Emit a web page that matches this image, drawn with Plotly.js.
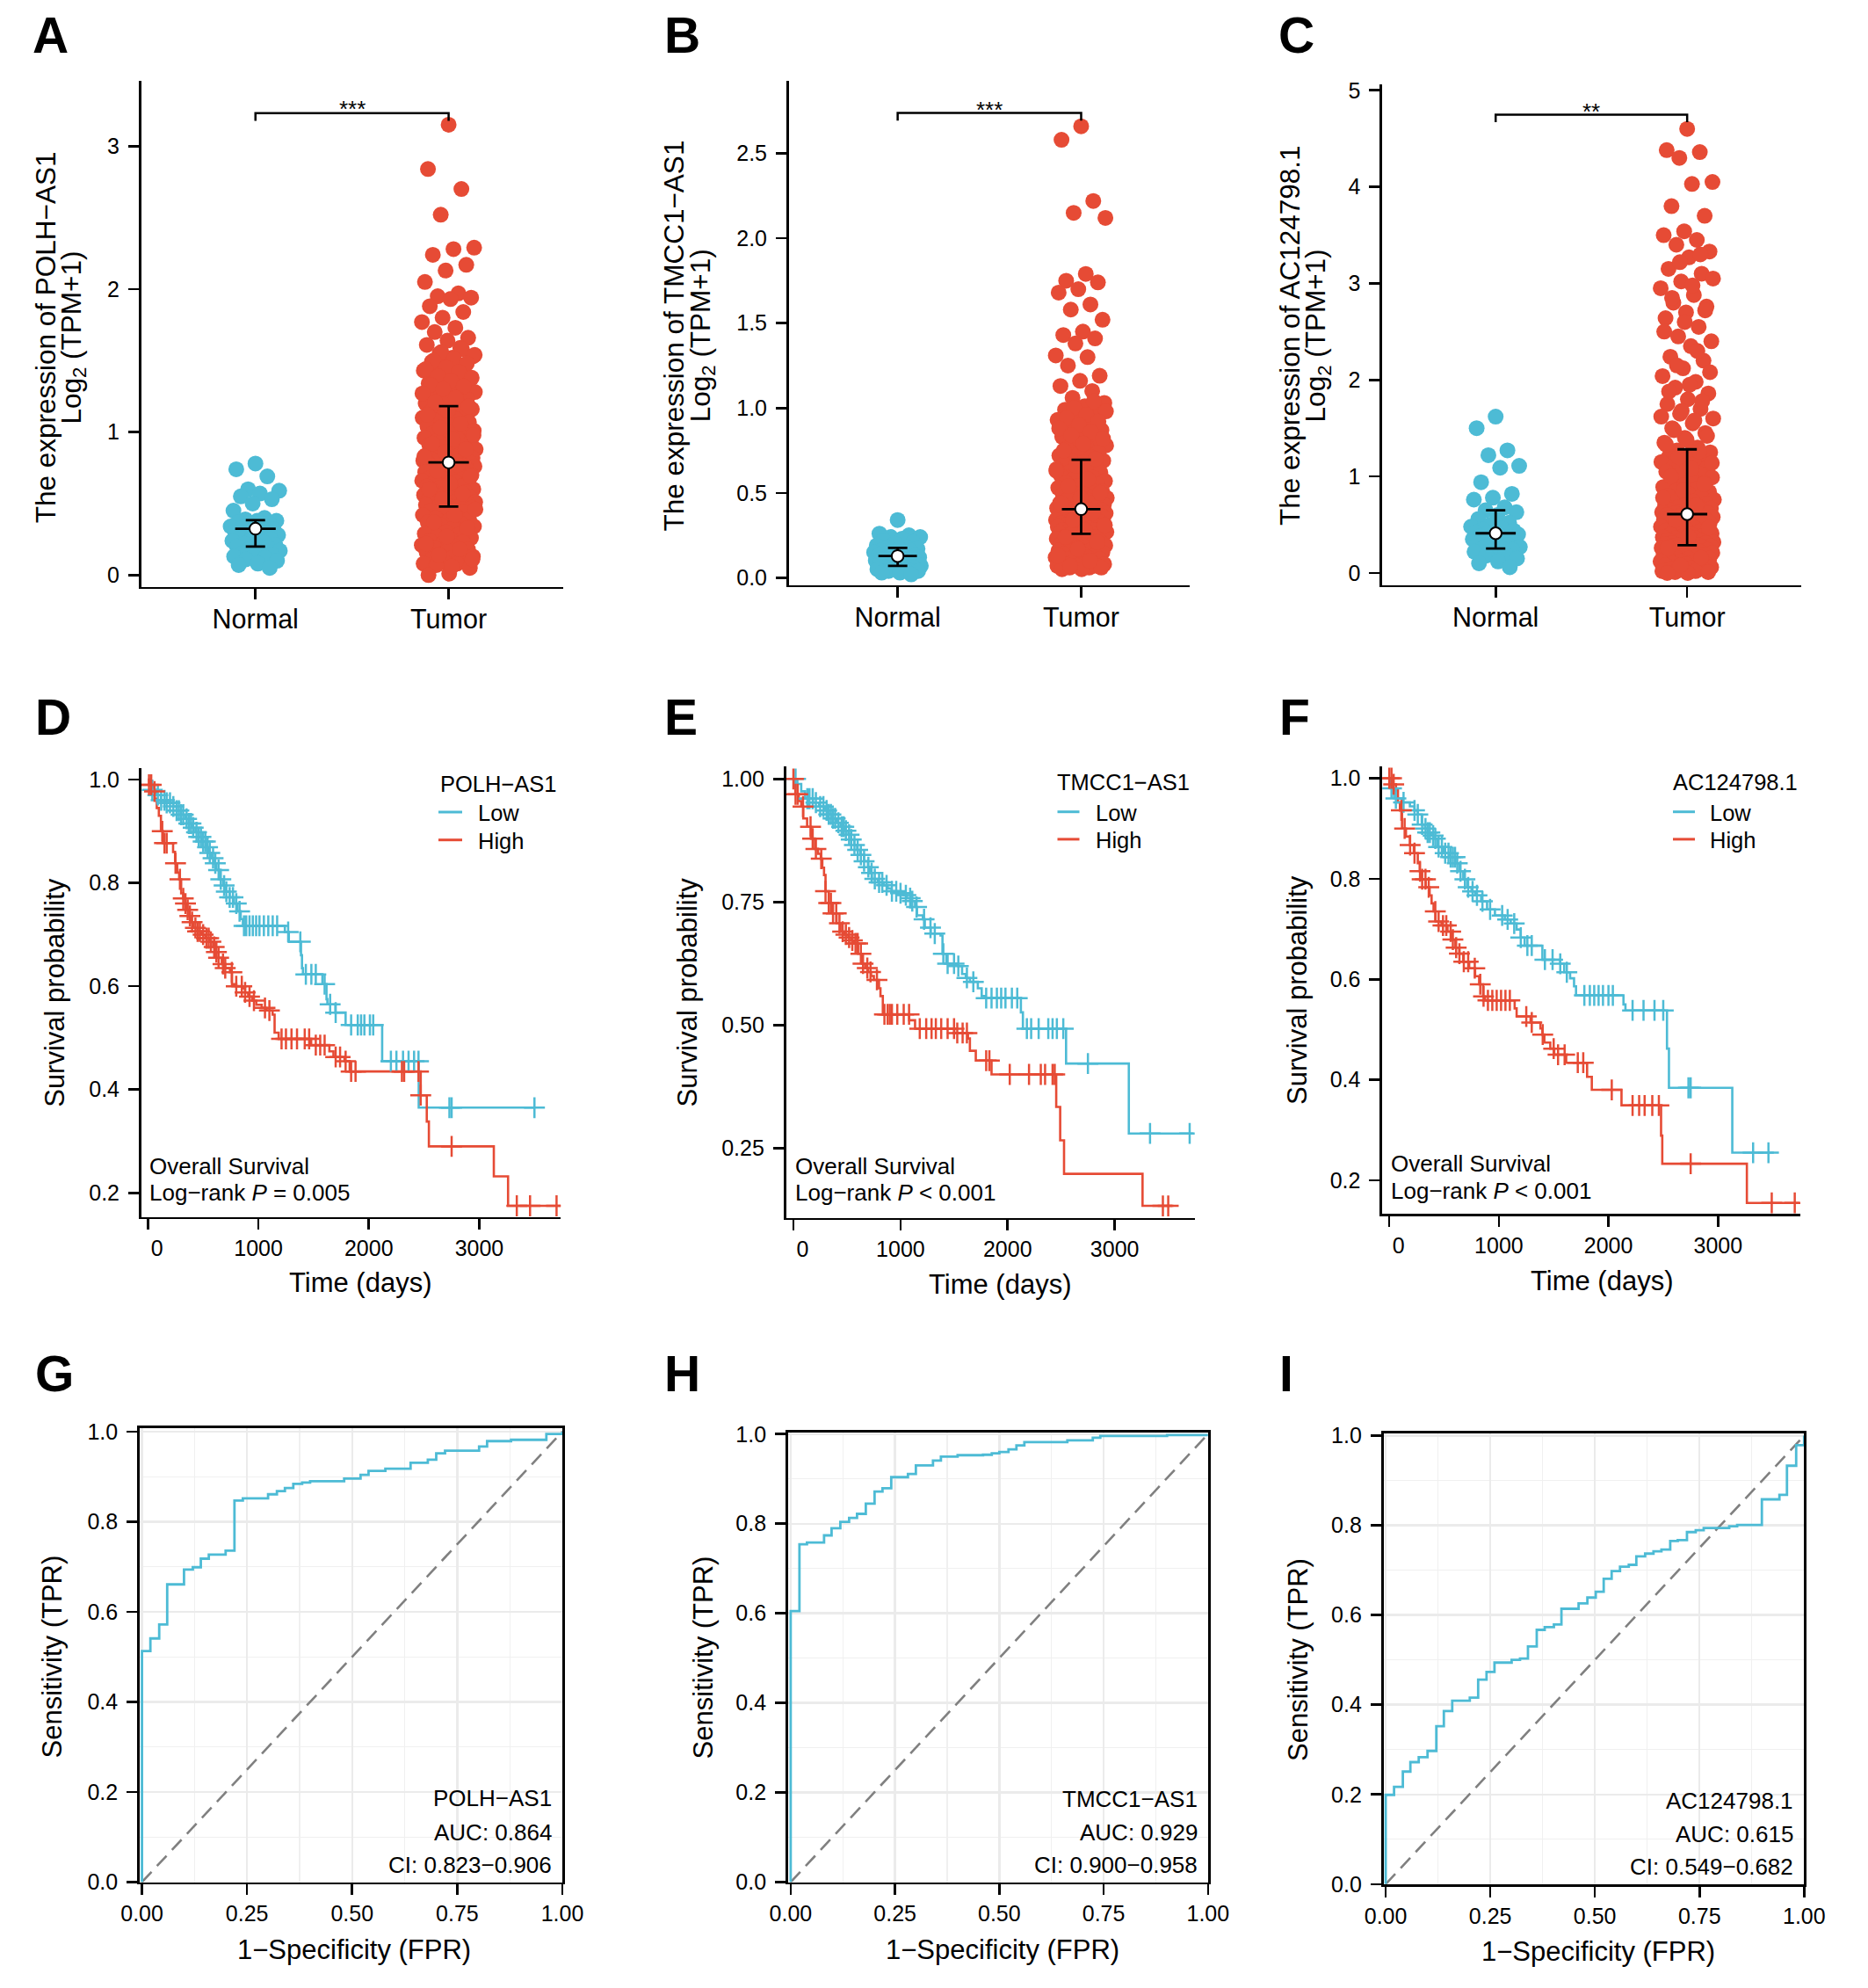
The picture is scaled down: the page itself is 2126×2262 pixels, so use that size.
<!DOCTYPE html>
<html><head><meta charset="utf-8">
<script src="https://cdn.plot.ly/plotly-3.0.1.min.js"></script>
<style>html,body{margin:0;padding:0;background:#fff}#chart{width:2126px;height:2262px}</style>
</head><body><div id="chart"></div>
<script>
const W = 2126, H = 2262;
const BLUE = '#4DBBD5', RED = '#E64B35';
const FONT = 'Liberation Sans, Arial, Helvetica, sans-serif';

// ---------------- Expression data (Log2(TPM+1)) ----------------
const groups = ['Normal', 'Tumor'];
const normalA = [0.78,0.74,0.69,0.60,0.59,0.57,0.55,0.53,0.50,0.45,0.40,0.39,0.38,0.38,0.37,0.36,0.35,0.34,0.33,0.33,0.32,0.31,0.30,0.30,0.29,0.28,0.27,0.26,0.25,0.25,0.24,0.23,0.22,0.21,0.21,0.20,0.19,0.18,0.17,0.16,0.15,0.14,0.13,0.13,0.12,0.11,0.10,0.08,0.07,0.05];
const tumorA = [3.15,2.84,2.70,2.52,2.29,2.28,2.24,2.17,2.13,2.05,1.97,1.95,1.94,1.93,1.88,1.84,1.80,1.77,1.73,1.70,1.66,1.64,1.61,1.59,1.55,1.53,1.52,1.49,1.47,1.46,1.43,1.41,1.40,1.37,1.35,1.34,1.31,1.29,1.28,1.26,1.25,1.23,1.22,1.20,1.19,
1.17,1.16,1.16,1.14,1.13,1.11,1.10,1.09,1.08,1.07,1.05,1.04,1.04,1.02,1.01,1.00,0.99,0.98,0.97,0.96,0.95,0.94,0.93,0.92,0.91,0.90,0.89,0.88,0.87,0.86,0.85,0.85,0.84,0.84,0.83,0.82,0.82,0.81,0.81,0.80,0.80,0.79,0.79,0.79,0.79,
0.78,0.77,0.76,0.76,0.75,0.74,0.74,0.73,0.72,0.71,0.71,0.70,0.69,0.68,0.68,0.67,0.66,0.65,0.65,0.64,0.63,0.62,0.62,0.61,0.60,0.59,0.59,0.58,0.57,0.56,0.56,0.55,0.54,0.54,0.53,0.52,0.52,0.51,0.51,0.50,0.50,0.49,0.49,0.48,0.48,
0.47,0.46,0.45,0.44,0.43,0.42,0.41,0.40,0.39,0.38,0.37,0.36,0.35,0.34,0.33,0.32,0.31,0.30,0.29,0.28,0.27,0.26,0.25,0.24,0.23,0.22,0.21,0.20,0.19,0.18,0.17,0.16,0.15,0.14,0.13,0.12,0.11,0.10,0.09,0.08,0.08,0.07,0.05,0.01,0.00,
1.58,1.56,1.54,1.51,1.50,1.48,1.45,1.44,1.42,1.39,1.38,1.36,1.33,1.32,1.30,1.27,1.24,1.21,1.18,1.15,1.12,1.06,1.03,0.98,0.95,0.92,0.88,0.86,0.83,0.77,0.73,0.69,0.64,0.60,0.57,0.53,0.46,0.42,0.37,0.33,0.27,0.22,0.18,0.14,0.11,0.06];
const normalB = [0.34,0.26,0.25,0.24,0.24,0.23,0.22,0.21,0.20,0.19,0.18,0.18,0.17,0.17,0.16,0.16,0.15,0.15,0.14,0.14,0.13,0.13,0.13,0.12,0.12,0.12,0.11,0.11,0.10,0.10,0.10,0.09,0.09,0.09,0.08,0.08,0.08,0.07,0.07,0.07,0.06,0.06,0.05,0.05,0.05,0.04,0.04,0.03,0.03,0.02];
const tumorB = [2.66,2.58,2.22,2.15,2.12,1.79,1.75,1.74,1.70,1.68,1.61,1.58,1.52,1.45,1.43,1.41,1.38,1.31,1.30,1.25,1.19,1.16,1.13,1.10,1.06,1.03,1.01,0.99,0.97,0.95,0.93,0.91,0.89,0.87,0.85,0.83,0.81,0.80,0.78,0.77,0.76,0.74,0.73,0.72,0.71,
0.69,0.69,0.68,0.67,0.66,0.65,0.64,0.63,0.62,0.62,0.61,0.60,0.59,0.58,0.57,0.56,0.56,0.55,0.54,0.53,0.52,0.51,0.51,0.50,0.49,0.48,0.48,0.47,0.46,0.46,0.45,0.45,0.44,0.44,0.43,0.43,0.42,0.42,0.41,0.41,0.41,0.40,0.40,0.40,0.40,
0.39,0.39,0.39,0.38,0.38,0.38,0.37,0.37,0.37,0.36,0.36,0.36,0.35,0.35,0.35,0.34,0.34,0.34,0.33,0.33,0.33,0.32,0.32,0.32,0.31,0.31,0.31,0.30,0.30,0.30,0.29,0.29,0.29,0.28,0.28,0.28,0.27,0.27,0.27,0.27,0.26,0.26,0.26,0.26,0.26,
0.25,0.25,0.24,0.24,0.23,0.23,0.22,0.22,0.21,0.21,0.20,0.20,0.19,0.19,0.18,0.18,0.17,0.17,0.16,0.16,0.15,0.15,0.14,0.14,0.13,0.13,0.12,0.12,0.11,0.11,0.10,0.10,0.09,0.09,0.08,0.08,0.08,0.07,0.07,0.07,0.06,0.06,0.06,0.05,0.05,
1.04,1.00,0.98,0.96,0.94,0.92,0.90,0.88,0.86,0.84,0.82,0.79,0.75,0.70,0.66,0.63,0.58,0.54,0.50,0.47,0.44,0.38,0.34,0.31,0.28,0.24,0.21,0.17,0.13,0.10,0.07];
const normalC = [1.62,1.50,1.27,1.22,1.11,1.09,0.94,0.82,0.78,0.76,0.68,0.65,0.63,0.60,0.56,0.52,0.50,0.48,0.46,0.45,0.44,0.43,0.42,0.41,0.41,0.40,0.39,0.38,0.37,0.36,0.35,0.34,0.33,0.32,0.31,0.30,0.29,0.28,0.27,0.26,0.25,0.24,0.23,0.22,0.20,0.18,0.15,0.12,0.10,0.06];
const tumorC = [4.60,4.38,4.36,4.30,4.05,4.03,3.80,3.70,3.54,3.50,3.45,3.40,3.33,3.27,3.15,3.10,3.02,2.95,2.88,2.80,2.76,2.70,2.64,2.55,2.45,2.40,2.35,2.24,2.20,2.12,2.04,1.98,1.92,1.86,1.80,1.75,1.70,1.65,1.60,1.55,1.50,1.45,1.40,1.35,1.30,
1.27,1.25,1.23,1.21,1.19,1.17,1.15,1.13,1.11,1.09,1.07,1.05,1.03,1.01,0.99,0.97,0.95,0.93,0.91,0.89,0.87,0.85,0.84,0.82,0.80,0.79,0.77,0.76,0.74,0.73,0.72,0.71,0.70,0.69,0.68,0.67,0.66,0.65,0.64,0.64,0.63,0.63,0.62,0.62,0.61,
0.60,0.60,0.59,0.58,0.58,0.57,0.56,0.55,0.55,0.54,0.53,0.52,0.51,0.50,0.50,0.49,0.48,0.47,0.46,0.45,0.45,0.44,0.43,0.42,0.41,0.40,0.40,0.39,0.38,0.37,0.36,0.36,0.35,0.34,0.34,0.33,0.33,0.32,0.32,0.31,0.31,0.30,0.30,0.29,0.29,
0.28,0.28,0.27,0.27,0.26,0.26,0.25,0.25,0.24,0.24,0.23,0.22,0.22,0.21,0.20,0.20,0.19,0.18,0.18,0.17,0.16,0.15,0.15,0.14,0.13,0.12,0.12,0.11,0.10,0.09,0.09,0.08,0.07,0.06,0.06,0.05,0.04,0.04,0.03,0.02,0.02,0.01,0.01,0.00,0.00,
3.30,3.22,3.05,2.98,2.85,2.72,2.60,2.50,2.30,2.15,2.08,1.95,1.88,1.78,1.68,1.62,1.58,1.48,1.42,1.38,1.33,1.26,1.20,1.14,1.08,1.00,0.92,0.86,0.78,0.70,0.55,0.47,0.38,0.26,0.16,0.08];
// summary (Q1, median, Q3)
const statNormalA = [0.200, 0.324, 0.384], statTumorA = [0.479, 0.788, 1.182];
const statNormalB = [0.070, 0.128, 0.176], statTumorB = [0.259, 0.404, 0.695];
const statNormalC = [0.253, 0.412, 0.650], statTumorC = [0.288, 0.610, 1.281];
const genes = ['POLH−AS1', 'TMCC1−AS1', 'AC124798.1'];
const sigLabels = ['***', '***', '**'];

// ---------------- Kaplan-Meier data ----------------
const kmD_low_t = [0,20,40,80,118,160,228,260,300,338,370,400,430,460,490,522,550,575,595,620,650,680,706,740,779,810,840,860,1240,1276,1386,1395,1404,1580,1617,1625,1698,1790,2121,2452,3500];
const kmD_low_s = [1.0,0.99,0.98,0.97,0.96,0.955,0.948,0.94,0.932,0.924,0.915,0.907,0.898,0.889,0.88,0.869,0.858,0.848,0.838,0.825,0.807,0.795,0.783,0.772,0.76,0.745,0.73,0.717,0.705,0.686,0.66,0.635,0.623,0.604,0.575,0.565,0.549,0.525,0.455,0.365,0.365];
const kmD_low_c = [40,90,120,150,170,200,230,260,280,300,320,350,370,390,410,440,460,480,500,520,540,560,590,610,640,660,690,710,740,770,800,830,870,890,920,950,980,1010,1050,1090,1130,1170,1270,1380,1430,1480,1520,1600,1650,1700,1840,1900,1930,1960,2010,2040,2200,2250,2310,2360,2410,2450,2730,2750,3500];
const kmD_high_t = [0,10,44,62,80,99,118,136,228,246,265,283,301,320,338,356,375,393,412,450,485,520,559,590,614,640,669,700,743,761,800,853,880,908,945,981,1030,1073,1129,1147,1184,1478,1643,1680,1780,1827,2470,2525,2544,3132,3261,3739];
const kmD_high_s = [1.0,0.99,0.977,0.963,0.945,0.93,0.90,0.877,0.86,0.838,0.82,0.807,0.78,0.77,0.76,0.748,0.736,0.724,0.713,0.706,0.70,0.693,0.686,0.676,0.666,0.655,0.643,0.635,0.627,0.604,0.60,0.596,0.588,0.58,0.572,0.564,0.558,0.553,0.545,0.51,0.498,0.486,0.474,0.463,0.455,0.435,0.389,0.338,0.29,0.232,0.175,0.175];
const kmD_high_c = [10,30,60,130,150,170,250,290,320,340,360,380,400,430,450,470,500,530,550,570,600,620,640,680,700,760,800,850,880,920,960,1060,1100,1210,1250,1300,1350,1420,1460,1520,1560,1600,1700,1740,1790,1840,1880,2300,2320,2450,2470,2750,3340,3460,3700];

const kmE_low_t = [0,37,73,110,183,240,293,330,366,400,440,475,513,540,568,595,623,660,696,715,733,790,842,880,916,970,1026,1060,1099,1136,1154,1209,1227,1282,1374,1392,1428,1538,1575,1610,1648,1722,1758,1795,2124,2143,2546,3132,3736];
const kmE_low_s = [1.0,0.99,0.975,0.96,0.952,0.944,0.936,0.928,0.92,0.911,0.903,0.895,0.887,0.877,0.866,0.856,0.846,0.833,0.821,0.809,0.797,0.79,0.784,0.778,0.772,0.768,0.764,0.758,0.752,0.74,0.723,0.715,0.698,0.686,0.682,0.645,0.625,0.62,0.604,0.596,0.588,0.575,0.559,0.555,0.526,0.493,0.422,0.28,0.28];
const kmE_low_c = [20,130,150,180,210,250,280,310,330,350,370,390,420,450,470,490,520,540,570,600,630,660,700,730,760,800,830,870,920,960,1000,1050,1090,1110,1150,1220,1280,1320,1400,1440,1500,1540,1620,1680,1800,1850,1900,1940,1980,2040,2090,2180,2220,2290,2380,2420,2460,2520,2750,3330,3700];
const kmE_high_t = [0,5,18,50,73,92,128,165,201,230,256,270,286,300,330,366,403,440,475,513,540,568,604,641,670,696,725,751,799,813,835,1081,1136,1502,1630,1648,1703,1850,2454,2491,2527,3260,3535];
const kmE_high_s = [1.0,0.985,0.969,0.955,0.944,0.92,0.903,0.879,0.858,0.848,0.838,0.82,0.805,0.772,0.748,0.727,0.707,0.69,0.684,0.678,0.672,0.666,0.645,0.625,0.616,0.608,0.60,0.592,0.575,0.559,0.522,0.51,0.493,0.484,0.473,0.448,0.428,0.40,0.334,0.266,0.198,0.133,0.133];
const kmE_high_c = [0,20,40,90,160,180,210,260,300,330,350,370,400,430,460,490,520,550,580,600,630,650,690,720,780,850,880,900,920,970,1030,1080,1180,1240,1290,1330,1380,1440,1500,1530,1580,1620,1800,1830,2020,2200,2310,2350,2420,2440,3450,3500];

const kmF_low_t = [0,10,43,116,188,230,260,296,325,350,380,404,440,495,549,603,639,675,711,750,783,838,892,964,1054,1108,1162,1199,1235,1397,1560,1596,1650,1686,1704,2137,2155,2534,2552,3130,3509];
const kmF_low_s = [1.0,0.98,0.96,0.952,0.944,0.936,0.928,0.908,0.9,0.892,0.886,0.88,0.863,0.851,0.843,0.831,0.815,0.799,0.783,0.775,0.767,0.755,0.739,0.727,0.719,0.711,0.699,0.683,0.667,0.639,0.631,0.614,0.602,0.586,0.568,0.55,0.538,0.462,0.384,0.255,0.255];
const kmF_low_c = [20,60,130,230,260,300,330,350,370,400,420,450,480,510,540,560,580,600,620,650,690,720,760,800,850,920,1030,1080,1140,1200,1260,1300,1420,1490,1560,1620,1780,1830,1870,1910,1950,2000,2040,2220,2320,2420,2500,2730,2750,3320,3460];
const kmF_high_t = [0,25,61,79,97,116,152,188,224,260,278,296,332,368,386,404,422,476,531,567,603,639,675,729,783,820,856,874,1144,1162,1289,1379,1397,1415,1469,1505,1614,1805,1848,2119,2480,2491,3263,3743];
const kmF_high_s = [1.0,0.988,0.976,0.952,0.936,0.90,0.884,0.867,0.851,0.831,0.815,0.799,0.783,0.767,0.751,0.735,0.715,0.707,0.695,0.679,0.663,0.651,0.635,0.622,0.606,0.59,0.566,0.558,0.542,0.526,0.514,0.502,0.49,0.474,0.462,0.45,0.434,0.406,0.38,0.349,0.289,0.233,0.155,0.155];
const kmF_high_c = [0,20,40,110,140,190,230,280,300,330,360,420,450,490,520,560,580,610,640,680,720,780,830,860,900,940,980,1020,1060,1100,1250,1300,1400,1500,1540,1600,1720,1770,2030,2220,2280,2330,2400,2460,2750,3490,3700];
const kmPvalues = ['P = 0.005', 'P &lt; 0.001', 'P &lt; 0.001'];
const kmGroups = ['Low', 'High'];
const kmTimeTicks = [0, 1000, 2000, 3000];

// ---------------- ROC data ----------------
const rocG_fpr = [0,0,0.020,0.041,0.060,0.100,0.121,0.140,0.159,0.199,0.220,0.240,0.300,0.321,0.340,0.360,0.381,0.400,0.481,0.520,0.539,0.579,0.639,0.680,0.700,0.721,0.802,0.821,0.878,0.962,1.0,1.0];
const rocG_tpr = [0,0.513,0.541,0.572,0.661,0.694,0.699,0.718,0.727,0.736,0.847,0.852,0.861,0.868,0.875,0.884,0.887,0.890,0.896,0.904,0.913,0.918,0.931,0.938,0.952,0.958,0.967,0.979,0.982,0.995,0.995,1.0];
const rocH_fpr = [0,0,0.021,0.039,0.080,0.098,0.119,0.140,0.159,0.180,0.201,0.220,0.241,0.281,0.300,0.341,0.360,0.400,0.461,0.482,0.500,0.522,0.541,0.560,0.663,0.724,0.742,0.902,1.0];
const rocH_tpr = [0,0.605,0.754,0.758,0.774,0.790,0.804,0.813,0.822,0.845,0.872,0.879,0.904,0.911,0.930,0.941,0.950,0.953,0.954,0.957,0.960,0.966,0.975,0.982,0.986,0.992,0.996,0.998,1.0];
const rocI_fpr = [0,0,0.020,0.041,0.059,0.079,0.100,0.121,0.139,0.159,0.201,0.221,0.241,0.260,0.301,0.321,0.340,0.361,0.380,0.402,0.420,0.461,0.482,0.502,0.521,0.540,0.560,0.581,0.599,0.620,0.640,0.659,0.680,0.698,0.720,0.741,0.760,0.821,0.840,0.899,0.941,0.959,0.981,1.0,1.0];
const rocI_tpr = [0,0.199,0.217,0.251,0.272,0.283,0.297,0.352,0.386,0.409,0.416,0.456,0.473,0.494,0.500,0.503,0.530,0.567,0.573,0.579,0.614,0.626,0.639,0.652,0.681,0.698,0.708,0.712,0.731,0.737,0.742,0.746,0.765,0.767,0.785,0.789,0.794,0.798,0.801,0.858,0.868,0.933,0.979,0.979,1.0];
const aucLabels = ['AUC: 0.864', 'AUC: 0.929', 'AUC: 0.615'];
const ciLabels = ['CI: 0.823−0.906', 'CI: 0.900−0.958', 'CI: 0.549−0.682'];

// ---------------- Layout geometry (pixels: left, right, top, bottom of plot areas) ----------------
const boxes = [
  [160.8, 641.4, 92.1, 667.5], [897.8, 1353.9, 92.1, 665.5], [1573.2, 2050.3, 95.5, 665.5],
  [160.8, 638.2, 874.1, 1384.5], [894.7, 1359.7, 871.8, 1385.5], [1573.2, 2049, 871.8, 1381.3],
  [159, 640, 1624.9, 2141.5], [896.9, 1374.8, 1629.5, 2141.5], [1574.6, 2053.3, 1630.5, 2143.8]
];
const PX = x => x / W, PY = y => 1 - y / H;
const sfx = k => (k === 1 ? '' : String(k));

const traces = [];
const layout = {
  width: W, height: H, margin: {l: 0, r: 0, t: 0, b: 0},
  paper_bgcolor: 'white', plot_bgcolor: 'white', showlegend: false,
  font: {family: FONT, color: 'black'}, annotations: [], shapes: []
};

function axisBase(extra) {
  return Object.assign({
    showline: true, linewidth: 2.8, linecolor: 'black', ticks: 'outside', ticklen: 12,
    tickwidth: 2.6, tickcolor: 'black', showgrid: false, zeroline: false, fixedrange: true,
    tickfont: {size: 25, family: FONT, color: 'black'}
  }, extra);
}
function setAxes(k, xa, ya) {
  const b = boxes[k - 1];
  layout['xaxis' + sfx(k)] = axisBase(Object.assign({domain: [PX(b[0]), PX(b[1])], anchor: 'y' + sfx(k)}, xa));
  layout['yaxis' + sfx(k)] = axisBase(Object.assign({domain: [PY(b[3]), PY(b[2])], anchor: 'x' + sfx(k), ticklabelstandoff: 5}, ya));
}
function ann(o) {
  layout.annotations.push(Object.assign({showarrow: false, xref: 'paper', yref: 'paper', font: {size: 26, family: FONT, color: 'black'}}, o));
}

// panel letters
const letters = [['A', 35, 40], ['B', 754, 40.5], ['C', 1453, 40.5], ['D', 38, 816], ['E', 754, 816], ['F', 1454, 816], ['G', 38, 1563], ['H', 754, 1563], ['I', 1454, 1563]];
letters.forEach(l => ann({text: '<b>' + l[0] + '</b>', x: PX(l[1]), y: PY(l[2]), xanchor: 'left', yanchor: 'middle', font: {size: 57, family: FONT, color: 'black'}}));

// ---------------- Expression panels ----------------
function jitter(center, n, half) {
  const out = [];
  for (let i = 0; i < n; i++) { const f = (i * 0.6180339887 + 0.5) % 1; out.push(center + half * (2 * f - 1)); }
  return out;
}
const exprSets = [
  {k: 1, n: normalA, t: tumorA, sn: statNormalA, st: statTumorA, xr: [-0.591, 1.595], yr: [-0.081, 3.456], tv: [0, 1, 2, 3], fmt: 'd', br: [3.177, 3.23], star: 3.262, t1: [51.4, 383.9], t2: [83.6, 383.9]},
  {k: 2, n: normalB, t: tumorB, sn: statNormalB, st: statTumorB, xr: [-0.593, 1.591], yr: [-0.042, 2.927], tv: [0, 0.5, 1, 1.5, 2, 2.5], fmt: '.1f', br: [2.693, 2.738], star: 2.755, t1: [766.9, 381.7], t2: [799.5, 381.7]},
  {k: 3, n: normalC, t: tumorC, sn: statNormalC, st: statTumorC, xr: [-0.592, 1.597], yr: [-0.123, 5.066], tv: [0, 1, 2, 3, 4, 5], fmt: 'd', br: [4.670, 4.748], star: 4.78, t1: [1467.3, 381.7], t2: [1499.7, 381.7]}
];
exprSets.forEach((e, i) => {
  const s = sfx(e.k), xa = 'x' + s, ya = 'y' + s;
  setAxes(e.k,
    {range: e.xr, tickvals: [0, 1], ticktext: groups, tickfont: {size: 30.5, family: FONT, color: 'black'}, ticklabelstandoff: -4},
    {range: e.yr, tickvals: e.tv, tickformat: e.fmt});
  traces.push({type: 'scatter', mode: 'markers', x: jitter(0, e.n.length, 0.13), y: e.n, xaxis: xa, yaxis: ya,
    marker: {color: BLUE, size: 18}, hoverinfo: 'skip'});
  traces.push({type: 'scatter', mode: 'markers', x: jitter(1, e.t.length, 0.14), y: e.t, xaxis: xa, yaxis: ya,
    marker: {color: RED, size: 18}, hoverinfo: 'skip'});
  traces.push({type: 'scatter', mode: 'markers', x: [0, 1], y: [e.sn[1], e.st[1]], xaxis: xa, yaxis: ya,
    marker: {color: 'white', size: 13.5, line: {color: 'black', width: 2}}, hoverinfo: 'skip',
    error_y: {type: 'data', symmetric: false, array: [e.sn[2] - e.sn[1], e.st[2] - e.st[1]], arrayminus: [e.sn[1] - e.sn[0], e.st[1] - e.st[0]], color: 'black', thickness: 2.8, width: 11},
    error_x: {type: 'constant', value: 0.105, color: 'black', thickness: 2.8, width: 0}});
  traces.push({type: 'scatter', mode: 'lines', x: [0, 0, 1, 1], y: [e.br[0], e.br[1], e.br[1], e.br[0]], xaxis: xa, yaxis: ya,
    line: {color: 'black', width: 2.5}, hoverinfo: 'skip'});
  layout.annotations.push({text: sigLabels[i], x: 0.5, y: e.star, xref: xa, yref: ya, xanchor: 'center', yanchor: 'middle', showarrow: false, font: {size: 26, family: FONT, color: 'black'}});
  ann({text: 'The expression of ' + genes[i], x: PX(e.t1[0]), y: PY(e.t1[1]), textangle: -90, xanchor: 'center', yanchor: 'middle', font: {size: 31.5, family: FONT, color: 'black'}});
  ann({text: 'Log<sub>2</sub> (TPM+1)', x: PX(e.t2[0]), y: PY(e.t2[1]), textangle: -90, xanchor: 'center', yanchor: 'middle', font: {size: 31.5, family: FONT, color: 'black'}});
});

// ---------------- Kaplan-Meier panels ----------------
function stepAt(ts, ss, t) { let v = ss[0]; for (let i = 0; i < ts.length; i++) { if (ts[i] <= t) v = ss[i]; else break; } return v; }
const NB = '\u00A0';
const kmSets = [
  {k: 4, lt: kmD_low_t, ls: kmD_low_s, lc: kmD_low_c, ht: kmD_high_t, hs: kmD_high_s, hc: kmD_high_c, xr: [-60, 3738], yr: [0.1537, 1.022], tv: [0.2, 0.4, 0.6, 0.8, 1.0], fmt: '.1f',
   lg: {tx: 499, ty: 891.5, l0: 499, l1: 526, txt: 541.7, y1: 924, y2: 955.7}, txt: [0.252, 0.2], yt: [62.9, 1128.9], xt: [410.2, 1459.5]},
  {k: 5, lt: kmE_low_t, ls: kmE_low_s, lc: kmE_low_c, ht: kmE_high_t, hs: kmE_high_s, hc: kmE_high_c, xr: [-68, 3747], yr: [0.109, 1.026], tv: [0.25, 0.5, 0.75, 1.0], fmt: '.2f',
   lg: {tx: 1201.3, ty: 890, l0: 1203.5, l1: 1228.5, txt: 1244.6, y1: 923.7, y2: 954.9}, txt: [0.213, 0.159], yt: [782.5, 1128.9], xt: [1138.3, 1461.8]},
  {k: 6, lt: kmF_low_t, ls: kmF_low_s, lc: kmF_low_c, ht: kmF_high_t, hs: kmF_high_s, hc: kmF_high_c, xr: [-64, 3751], yr: [0.133, 1.024], tv: [0.2, 0.4, 0.6, 0.8, 1.0], fmt: '.1f',
   lg: {tx: 1901.8, ty: 890, l0: 1904, l1: 1929, txt: 1944.5, y1: 923.7, y2: 954.9}, txt: [0.233, 0.179], yt: [1476.3, 1126.6], xt: [1822.5, 1457.2]}
];
kmSets.forEach((e, i) => {
  const s = sfx(e.k), xa = 'x' + s, ya = 'y' + s;
  setAxes(e.k, {range: e.xr, tickvals: kmTimeTicks, ticktext: kmTimeTicks.map(v => (v === 0 ? NB + NB + NB + '0' : String(v)))},
    {range: e.yr, tickvals: e.tv, tickformat: e.fmt});
  const grp = [[kmGroups[0], BLUE, e.lt, e.ls, e.lc], [kmGroups[1], RED, e.ht, e.hs, e.hc]];
  grp.forEach(g => {
    traces.push({type: 'scatter', mode: 'lines', name: g[0], x: g[2], y: g[3], xaxis: xa, yaxis: ya,
      line: {color: g[1], width: 2.6, shape: 'hv'}, hoverinfo: 'skip'});
  });
  grp.forEach(g => {
    traces.push({type: 'scatter', mode: 'markers', x: g[4], y: g[4].map(t => stepAt(g[2], g[3], t)), xaxis: xa, yaxis: ya,
      marker: {symbol: 'cross-thin-open', size: 17, color: g[1], line: {color: g[1], width: 2.5}}, hoverinfo: 'skip'});
  });
  // legend (title + two keyed entries)
  ann({text: genes[i], x: PX(e.lg.tx), y: PY(e.lg.ty), xanchor: 'left', yanchor: 'middle', font: {size: 25.5, family: FONT, color: 'black'}});
  [[kmGroups[0], BLUE, e.lg.y1], [kmGroups[1], RED, e.lg.y2]].forEach(g => {
    layout.shapes.push({type: 'line', xref: 'paper', yref: 'paper', x0: PX(e.lg.l0), x1: PX(e.lg.l1), y0: PY(g[2]), y1: PY(g[2]), line: {color: g[1], width: 3}});
    ann({text: g[0], x: PX(e.lg.txt), y: PY(g[2] + 1), xanchor: 'left', yanchor: 'middle', font: {size: 25.5, family: FONT, color: 'black'}});
  });
  layout.annotations.push({text: 'Overall Survival', x: 0, y: e.txt[0], xref: xa, yref: ya, xanchor: 'left', yanchor: 'middle', showarrow: false, font: {size: 26, family: FONT, color: 'black'}});
  layout.annotations.push({text: 'Log−rank <i>' + kmPvalues[i].slice(0, 1) + '</i>' + kmPvalues[i].slice(1), x: 0, y: e.txt[1], xref: xa, yref: ya, xanchor: 'left', yanchor: 'middle', showarrow: false, font: {size: 26, family: FONT, color: 'black'}});
  ann({text: 'Survival probability', x: PX(e.yt[0]), y: PY(e.yt[1]), textangle: -90, xanchor: 'center', yanchor: 'middle', font: {size: 31, family: FONT, color: 'black'}});
  ann({text: 'Time (days)', x: PX(e.xt[0]), y: PY(e.xt[1]), xanchor: 'center', yanchor: 'middle', font: {size: 31, family: FONT, color: 'black'}});
});

// ---------------- ROC panels ----------------
const rocSets = [
  {k: 7, f: rocG_fpr, t: rocG_tpr, xr: [-0.0054, 1.0], yr: [0, 1.008], yt: [59.7, 1884.8], xt: [402.7, 2218.6]},
  {k: 8, f: rocH_fpr, t: rocH_tpr, xr: [-0.0063, 1.0], yr: [0, 1.0045], yt: [800.4, 1886], xt: [1140.5, 2218.6]},
  {k: 9, f: rocI_fpr, t: rocI_tpr, xr: [-0.0052, 1.0], yr: [0, 1.006], yt: [1477.6, 1888.3], xt: [1818.5, 2220]}
];
rocSets.forEach((e, i) => {
  const s = sfx(e.k), xa = 'x' + s, ya = 'y' + s;
  const grid = {showgrid: true, gridcolor: '#EBEBEB', gridwidth: 2.4, mirror: true};
  setAxes(e.k,
    Object.assign({range: e.xr, tick0: 0, dtick: 0.25, tickformat: '.2f', minor: {dtick: 0.125, showgrid: true, gridcolor: '#F0F0F0', gridwidth: 1.3}}, grid),
    Object.assign({range: e.yr, tick0: 0, dtick: 0.2, tickformat: '.1f', minor: {dtick: 0.1, showgrid: true, gridcolor: '#F0F0F0', gridwidth: 1.3}}, grid));
  traces.push({type: 'scatter', mode: 'lines', x: [0, 1], y: [0, 1], xaxis: xa, yaxis: ya, line: {color: '#808080', width: 2.6, dash: '16px,9px'}, hoverinfo: 'skip'});
  traces.push({type: 'scatter', mode: 'lines', x: e.f, y: e.t, xaxis: xa, yaxis: ya, line: {color: BLUE, width: 2.8, shape: 'hv'}, hoverinfo: 'skip'});
  [[genes[i], 0.186], [aucLabels[i], 0.111], [ciLabels[i], 0.038]].forEach(r => {
    layout.annotations.push({text: r[0], x: 0.979, y: r[1], xref: xa, yref: ya, xanchor: 'right', yanchor: 'middle', showarrow: false, font: {size: 26, family: FONT, color: 'black'}});
  });
  ann({text: 'Sensitivity (TPR)', x: PX(e.yt[0]), y: PY(e.yt[1]), textangle: -90, xanchor: 'center', yanchor: 'middle', font: {size: 31, family: FONT, color: 'black'}});
  ann({text: '1−Specificity (FPR)', x: PX(e.xt[0]), y: PY(e.xt[1]), xanchor: 'center', yanchor: 'middle', font: {size: 31, family: FONT, color: 'black'}});
});

Plotly.newPlot('chart', traces, layout, {displayModeBar: false, staticPlot: true});
</script></body></html>
